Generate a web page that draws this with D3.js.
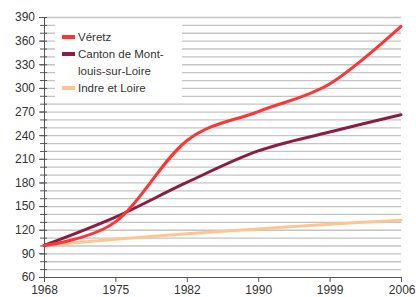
<!DOCTYPE html>
<html>
<head>
<meta charset="utf-8">
<script src="https://cdn.jsdelivr.net/npm/d3@7"></script>
<style>
  body { margin: 0; background: #fff; }
  svg text { font-family: "Liberation Sans", Arial, sans-serif; fill: #333; }
</style>
</head>
<body>
<svg class="chart"></svg>
<script>
// census years (shown as evenly spaced categories)
var years = ["1968", "1975", "1982", "1990", "1999", "2006"];

// index, base 100 in 1968
var veretz = [100, 130, 233, 270, 305, 378];
var canton = [100, 136, 180, 220, 244, 266];
var indre = [100, 108, 115, 121, 127, 132];

var seriesNames = ["Véretz", "Canton de Mont-|louis-sur-Loire", "Indre et Loire"];
var seriesColors = ["#ff3434", "#8a1d44", "#ffc590"];

var yMin = 60, yMax = 390;

function draw() {
    'use strict';

    var W = 416, H = 297;
    var margin = { top: 17, right: 15, bottom: 20, left: 44 },
        width = W - margin.left - margin.right,
        height = H - margin.top - margin.bottom;

    var svg = d3.select(".chart")
        .attr("width", W)
        .attr("height", H);

    var chart = svg.append("g")
        .attr("transform", "translate(" + margin.left + "," + margin.top + ")");

    var x = d3.scalePoint().domain(years).range([0, width]);
    var y = d3.scaleLinear().domain([yMin, yMax]).range([height, 0]);

    // horizontal grid every 10
    var gridVals = d3.range(yMin + 10, yMax + 1, 10);
    chart.append("g").selectAll("line").data(gridVals)
        .enter().append("line")
        .attr("x1", 0).attr("x2", width)
        .attr("y1", d => y(d) + 0.5).attr("y2", d => y(d) + 0.5)
        .attr("stroke", "#c4c4c4")
        .attr("stroke-width", 1.3);

    // small ticks across the axis for every 10
    chart.append("g").selectAll("line").data(d3.range(yMin, yMax + 1, 10))
        .enter().append("line")
        .attr("x1", -4).attr("x2", 3)
        .attr("y1", d => y(d) + 0.5).attr("y2", d => y(d) + 0.5)
        .attr("stroke", "#555");

    // left axis with labels every 30
    var left = d3.axisLeft(y).tickValues(d3.range(yMin, yMax + 1, 30)).tickSize(5).tickPadding(4);
    var gy = chart.append("g").call(left);
    gy.select(".domain").attr("stroke", "#555");
    gy.selectAll(".tick line").attr("stroke", "#555");
    gy.selectAll("text").style("font-size", "12px").attr("fill", "#333");

    // bottom axis
    var bottom = d3.axisBottom(x).tickSizeInner(5).tickSizeOuter(0).tickPadding(3);
    var gx = chart.append("g")
        .attr("transform", "translate(0," + height + ")")
        .call(bottom);
    gx.select(".domain").attr("stroke", "#555");
    gx.selectAll(".tick line").attr("stroke", "#555");
    gx.selectAll("text").style("font-size", "12px").attr("fill", "#333");
    gx.selectAll(".tick text").filter(d => d === "2006").attr("text-anchor", "end").attr("dx", "14px");

    // lines
    var all = [veretz, canton, indre];
    var line = d3.line()
        .x((d, i) => x(years[i]))
        .y(d => y(d))
        .curve(d3.curveCardinal.tension(0));

    [2, 1, 0].forEach(function (k) {
        chart.append("path")
            .datum(all[k])
            .attr("fill", "none")
            .attr("stroke", seriesColors[k])
            .attr("stroke-width", 3)
            .attr("stroke-linecap", "round")
            .attr("d", line);
    });

    // legend box
    var legend = chart.append("g").attr("transform", "translate(11,3)");
    legend.append("rect")
        .attr("width", 127).attr("height", 80)
        .attr("fill", "#fff");

    seriesNames.forEach(function (name, k) {
        var lines = name.split("|");
        var yy = 17 + k * 17 + (k > 1 ? 17 : 0);
        legend.append("rect")
            .attr("x", 7).attr("y", yy - 2)
            .attr("width", 13).attr("height", 4)
            .attr("fill", seriesColors[k]);
        lines.forEach(function (t, j) {
            legend.append("text")
                .attr("x", 23)
                .attr("y", yy + j * 17)
                .attr("dy", "0.35em")
                .style("font-size", "11.5px")
                .text(t);
        });
    });
}

draw();
</script>
</body>
</html>
